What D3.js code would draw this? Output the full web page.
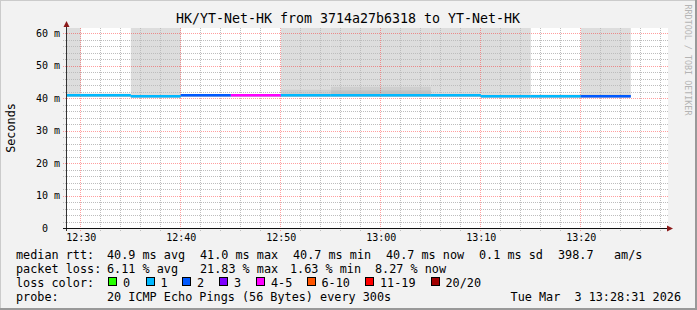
<!DOCTYPE html>
<html>
<head>
<meta charset="utf-8">
<script src="https://cdn.jsdelivr.net/npm/d3@7"></script>
<style>
  body { margin: 0; background: #f2f2f2; }
  svg { display: block; }
  text { font-family: "DejaVu Sans Mono", monospace; white-space: pre; fill: #000; }
</style>
</head>
<body>
<script>
'use strict';

// 5 minute steps, time = end of step
const STEP_ENDS = ['12:30', '12:35', '12:40', '12:45', '12:50', '12:55',
                   '13:00', '13:05', '13:10', '13:15', '13:20', '13:25'];
const MEDIAN = [41.0, 41.0, 40.7, 41.0, 41.0, 41.0, 41.0, 41.0, 41.0, 40.7, 40.7, 40.7];
const LOSS = [1, 1, 1, 2, 5, 1, 1, 1, 1, 1, 1, 2];
// smoke bands (ms) : min ping, inner, middle, max ping
const SMOKE_MIN = [40.5, 40.5, 40.3, 40.6, 40.6, 40.5, 40.5, 40.5, 40.5, 40.3, 40.3, 40.3];
const SMOKE_IN  = [41.1, 41.1, 40.8, 41.1, 41.1, 41.4, 42.5, 42.5, 41.2, 40.9, 40.9, 41.0];
const SMOKE_MID = [41.3, 41.3, 41.0, 41.2, 41.2, 42.7, 43.6, 43.6, 41.4, 41.0, 41.0, 41.2];
const SMOKE_MAX = [99, 41.5, 99, 41.3, 41.3, 99, 99, 99, 99, 99, 41.2, 99];

const Y_TICKS = [0, 10, 20, 30, 40, 50, 60];
const X_TICKS = ['12:30', '12:40', '12:50', '13:00', '13:10', '13:20'];

const RTT_VALUES = [40.9, 41.0, 40.7, 40.7];
const RTT_NAMES = ['avg', 'max', 'min', 'now'];
const RTT_SD = 0.1;
const RTT_AMS = 398.7;
const LOSS_VALUES = [6.11, 21.83, 1.63, 8.27];
const LOSS_NAMES = ['avg', 'max', 'min', 'now'];
const LOSS_KEYS = ['0', '1', '2', '3', '4-5', '6-10', '11-19', '20/20'];
const LOSS_COLORS = ['#26ff00', '#00b8ff', '#0059ff', '#7e00ff', '#ff00ff', '#ff5500', '#ff0000', '#a10000'];

const T = s => {
  const [h, m, sec = 0] = s.split(':').map(Number);
  return new Date(Date.UTC(2026, 2, 3, h, m, sec));
};
const lossIndex = n => n <= 3 ? n : n <= 5 ? 4 : n <= 10 ? 5 : n < 20 ? 6 : 7;

const W = 697, H = 310;
const plot = { left: 66, right: 668, top: 28, bottom: 228 };

const svg = d3.select('body').append('svg')
  .attr('width', W).attr('height', H);

// frame
svg.append('rect').attr('width', W).attr('height', H).attr('fill', '#f2f2f2');
svg.append('path').attr('d', `M0,${H} V0 H${W}`).attr('fill', 'none')
  .attr('stroke', '#cbcbcb').attr('stroke-width', 2);
svg.append('path').attr('d', `M0,${H - 1} H${W - 1} V0`).attr('fill', 'none')
  .attr('stroke', '#999').attr('stroke-width', 2);

const x = d3.scaleUtc()
  .domain([T('12:28:31'), T('13:28:31')])
  .range([66, 666]);
const y = d3.scaleLinear()
  .domain([0, 61.54])
  .range([228.5, 28.5]);

const px = v => Math.floor(x(v)) + 0.5;
const py = v => Math.ceil(y(v)) - 0.5;

svg.append('defs').append('clipPath').attr('id', 'clip')
  .append('rect').attr('x', plot.left).attr('y', plot.top)
  .attr('width', plot.right - plot.left).attr('height', plot.bottom - plot.top);

svg.append('rect').attr('x', plot.left).attr('y', plot.top)
  .attr('width', plot.right - plot.left).attr('height', plot.bottom - plot.top).attr('fill', '#fff');

const data = STEP_ENDS.map((t, i) => ({
  t1: T(t), t0: new Date(T(t) - 300000),
  median: MEDIAN[i], loss: LOSS[i],
  min: SMOKE_MIN[i], inner: SMOKE_IN[i], mid: SMOKE_MID[i], max: SMOKE_MAX[i]
}));

// smoke
const smoke = svg.append('g').attr('clip-path', 'url(#clip)');
const band = (lo, hi, color) => smoke.append('g').selectAll('rect')
  .data(data).join('rect')
  .attr('x', d => x(d.t0))
  .attr('width', d => x(d.t1) - x(d.t0))
  .attr('y', d => y(hi(d)))
  .attr('height', d => Math.max(0, y(lo(d)) - y(hi(d))))
  .attr('fill', color);
band(d => d.min, d => d.max, '#dddddd');
band(d => d.min, d => d.mid, '#cfcfcf');
band(d => d.min, d => d.inner, '#c2c2c2');

// grid
const grid = svg.append('g').attr('shape-rendering', 'crispEdges');
const minorY = d3.range(2, 61, 2).filter(v => v % 10 !== 0);
const minorX = d3.utcMinute.every(2).range(x.domain()[0], x.domain()[1])
  .filter(d => d.getUTCMinutes() % 10 !== 0);

grid.append('g').selectAll('line').data(minorY).join('line')
  .attr('x1', plot.left - 3).attr('x2', plot.right)
  .attr('y1', py).attr('y2', py)
  .attr('stroke', '#bdbdbd').attr('stroke-dasharray', '1,1');
grid.append('g').selectAll('line').data(minorX).join('line')
  .attr('x1', px).attr('x2', px)
  .attr('y1', plot.top).attr('y2', plot.bottom + 3)
  .attr('stroke', '#bdbdbd').attr('stroke-dasharray', '1,1');
grid.append('g').selectAll('line').data(Y_TICKS.slice(1)).join('line')
  .attr('x1', plot.left - 3).attr('x2', plot.right)
  .attr('y1', py).attr('y2', py)
  .attr('stroke', 'rgba(255,0,0,0.38)').attr('stroke-dasharray', '1,1');
grid.append('g').selectAll('line').data(X_TICKS.map(T)).join('line')
  .attr('x1', px).attr('x2', px)
  .attr('y1', plot.top).attr('y2', plot.bottom + 3)
  .attr('stroke', 'rgba(255,0,0,0.38)').attr('stroke-dasharray', '1,1');

// median line coloured by loss
svg.append('g').selectAll('line').data(data).join('line')
  .attr('x1', d => x(d.t0)).attr('x2', d => x(d.t1))
  .attr('y1', d => y(d.median)).attr('y2', d => y(d.median))
  .attr('stroke', d => LOSS_COLORS[lossIndex(d.loss)])
  .attr('stroke-width', 2.6)
  .attr('clip-path', 'url(#clip)');

// axes
const axes = svg.append('g').attr('shape-rendering', 'crispEdges');
axes.append('line').attr('x1', 66.5).attr('x2', 66.5).attr('y1', 231).attr('y2', 24)
  .attr('stroke', '#333');
axes.append('line').attr('x1', 63).attr('x2', 670).attr('y1', 228.5).attr('y2', 228.5)
  .attr('stroke', '#111');
svg.append('path').attr('d', 'M66.5,21 L69.5,27 L63.5,27 Z').attr('fill', '#8c1a1a');
svg.append('path').attr('d', 'M673,228.5 L667,225.5 L667,231.5 Z').attr('fill', '#8c1a1a');

// tick labels
svg.append('g').selectAll('text').data(Y_TICKS).join('text')
  .attr('x', 60).attr('y', v => y(v) + 3.4)
  .attr('text-anchor', 'end').style('font-size', '10px')
  .text(v => v === 0 ? '0\u00a0\u00a0' : v + ' m');
svg.append('g').selectAll('text').data(X_TICKS).join('text')
  .attr('x', t => x(T(t)) + 0.5).attr('y', 241)
  .attr('text-anchor', 'middle').style('font-size', '10px')
  .text(t => t);

// title & labels
svg.append('text').attr('x', 348).attr('y', 23.3)
  .attr('text-anchor', 'middle').style('font-size', '13.3px')
  .text('HK/YT-Net-HK from 3714a27b6318 to YT-Net-HK');
svg.append('text').attr('transform', 'translate(15,128) rotate(-90)')
  .attr('text-anchor', 'middle').style('font-size', '11.8px')
  .text('Seconds');
svg.append('text').attr('transform', 'translate(685,60) rotate(90)')
  .attr('text-anchor', 'middle').style('font-size', '8.4px').style('fill', '#b4b4b4')
  .text('RRDTOOL / TOBI OETIKER');

// legend
const legend = svg.append('g').style('font-size', '11.8px');
const row = (yy, items) => legend.append('g').selectAll('text').data(items).join('text')
  .attr('x', d => d[0]).attr('y', yy).text(d => d[1]);

const rttX = [107, 200, 293, 386];
row(258.5, [[16, 'median rtt:']]
  .concat(RTT_VALUES.map((v, i) => [rttX[i], v.toFixed(1) + ' ms ' + RTT_NAMES[i]]))
  .concat([[479, RTT_SD.toFixed(1) + ' ms sd'], [558, RTT_AMS.toFixed(1)], [614, 'am/s']]));

const lossX = [107, 200, 290, 375];
row(272.5, [[16, 'packet loss:']]
  .concat(LOSS_VALUES.map((v, i) => [lossX[i], v.toFixed(2) + ' % ' + LOSS_NAMES[i]])));

row(286.5, [[16, 'loss color:']]);
const keyX = [108, 145.5, 182, 219, 256, 306.5, 365, 430.5];
const keys = legend.append('g').selectAll('g').data(LOSS_KEYS).join('g')
  .attr('transform', (d, i) => `translate(${keyX[i]},0)`);
keys.append('rect').attr('x', 0.5).attr('y', 277.5).attr('width', 8).attr('height', 8)
  .attr('fill', (d, i) => LOSS_COLORS[i]).attr('stroke', '#000').attr('shape-rendering', 'crispEdges');
keys.append('text').attr('x', 15).attr('y', 286.5).text(d => d);

row(300.5, [[16, 'probe:'], [107, '20 ICMP Echo Pings (56 Bytes) every 300s']]);
legend.append('text').attr('x', 681).attr('y', 300.5).attr('text-anchor', 'end')
  .text('Tue Mar  3 13:28:31 2026');
</script>
</body>
</html>
